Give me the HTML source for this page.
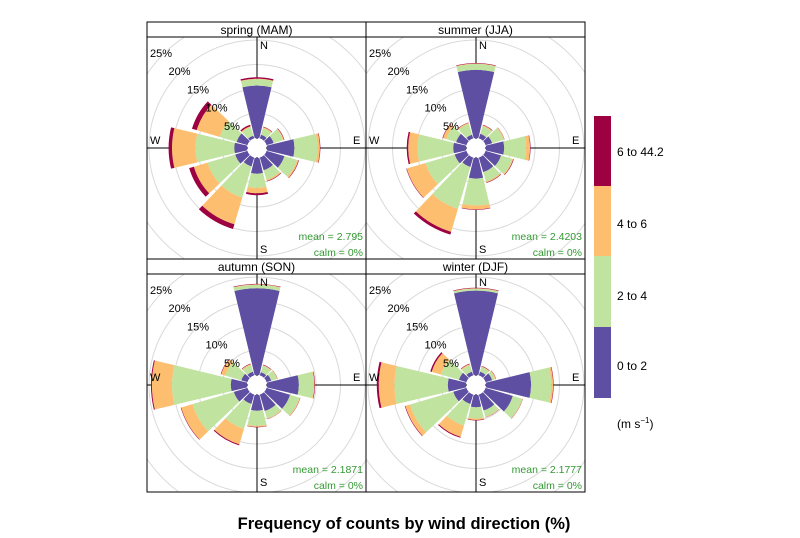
<!DOCTYPE html>
<html><head><meta charset="utf-8"><style>
body{margin:0;background:#fff;}
svg{display:block;font-family:"Liberation Sans",Arial,sans-serif;}
</style></head><body>
<svg id="chart" width="800" height="538" viewBox="0 0 800 538" xmlns="http://www.w3.org/2000/svg">
<defs>
<clipPath id="c0"><rect x="147" y="37" width="219" height="222"/></clipPath>
<clipPath id="c1"><rect x="366" y="37" width="219" height="222"/></clipPath>
<clipPath id="c2"><rect x="147" y="274" width="219" height="218"/></clipPath>
<clipPath id="c3"><rect x="366" y="274" width="219" height="218"/></clipPath>
</defs>
<g id="panels"></g>
<rect x="147" y="22" width="438" height="470" fill="none" stroke="#000" stroke-width="1"/>
<g>
<rect x="594" y="116" width="17" height="71" fill="#9E0142"/>
<rect x="594" y="186" width="17" height="71" fill="#FDBF6F"/>
<rect x="594" y="256" width="17" height="71" fill="#C0E3A0"/>
<rect x="594" y="327" width="17" height="71" fill="#5E4FA2"/>
<text x="617" y="156" font-size="12">6 to 44.2</text>
<text x="617" y="228" font-size="12">4 to 6</text>
<text x="617" y="300" font-size="12">2 to 4</text>
<text x="617" y="370" font-size="12">0 to 2</text>
<text x="617" y="428" font-size="12">(m s<tspan font-size="8" dy="-5">−1</tspan><tspan dy="5">)</tspan></text>
</g>
<text x="404" y="529" font-size="16.5" font-weight="bold" text-anchor="middle">Frequency of counts by wind direction (%)</text>
</svg>
<script>
const directions = [0,30,60,90,120,150,180,210,240,270,300,330];
const bands = ["0 to 2","2 to 4","4 to 6","6 to 44.2"];
const bandColors = ["#5E4FA2","#C0E3A0","#FDBF6F","#9E0142"];
const gridTicks = [5,10,15,20,25,30];
const gridLabels = ["5%","10%","15%","20%","25%"];
const seasonNames = ["spring (MAM)","summer (JJA)","autumn (SON)","winter (DJF)"];
const seasonMeans = ["mean = 2.795","mean = 2.4203","mean = 2.1871","mean = 2.1777"];
const seasonCalm = ["calm = 0%","calm = 0%","calm = 0%","calm = 0%"];
// band frequencies (%) per direction: [0-2, 2-4, 4-6, 6+]
const spring = [[10.7,1.3,0.1,0.3],[0.8,1.4,0.2,0.1],[1.5,2.0,0.2,0.1],[5.6,4.7,0.5,0.1],[3.8,2.7,0.3,0.1],[2.7,2.0,0.3,0.1],[3.2,2.9,1.1,0.4],[1.9,6.6,5.7,1.0],[2.6,5.9,2.9,1.0],[2.6,7.9,4.8,0.7],[2.3,3.6,4.9,1.0],[0.6,1.8,0.2,0.3]];
const summer = [[13.9,1.2,0.1,0.1],[1.0,1.6,0.2,0.1],[1.4,2.4,0.2,0.05],[3.7,4.5,0.8,0.1],[3.3,2.4,0.2,0.1],[3.1,2.0,0.2,0.1],[4.2,5.5,0.8,0.1],[2.0,8.9,4.9,0.6],[2.5,6.2,4.0,0.1],[2.6,7.3,1.9,0.3],[2.2,2.1,0.7,0.1],[0.8,2.3,0.2,0.1]];
const autumn = [[17.7,0.7,0.1,0.1],[0.7,1.4,0.1,0.1],[1.0,1.2,0.1,0.05],[6.5,3.0,0.2,0.1],[5.0,2.0,0.15,0.05],[3.5,1.6,0.1,0.05],[3.2,3.1,0.2,0.1],[2.0,5.3,3.3,0.2],[2.9,8.8,2.4,0.1],[3.3,12.0,4.1,0.2],[1.3,3.4,0.9,0.1],[0.8,1.4,0.2,0.1]];
const winter = [[17.2,0.4,0.1,0.1],[0.8,1.0,0.1,0.1],[1.4,0.6,0.2,0.05],[9.2,4.1,0.4,0.1],[5.8,2.0,0.1,0.05],[3.4,1.3,0.1,0.05],[2.5,2.3,0.3,0.1],[2.0,4.6,2.4,0.2],[2.8,9.2,1.0,0.1],[3.7,10.9,3.2,0.4],[1.6,3.8,2.0,0.3],[0.8,1.4,0.2,0.1]];
const seasonData = [spring, summer, autumn, winter];

const NS = "http://www.w3.org/2000/svg";
const HOLE = 10, K = 4.9, HALF = 13.5;
function rScale(p){ return HOLE + K*p; }
function pt(cx,cy,r,deg){ const a=deg*Math.PI/180; return [cx+r*Math.sin(a), cy-r*Math.cos(a)]; }
function mk(tag, attrs, parent){ const e=document.createElementNS(NS,tag); for(const k in attrs) e.setAttribute(k,attrs[k]); parent.appendChild(e); return e; }
function sector(cx,cy,r0,r1,a0,a1){
  const p1=pt(cx,cy,r0,a0),p2=pt(cx,cy,r1,a0),p3=pt(cx,cy,r1,a1),p4=pt(cx,cy,r0,a1);
  return `M${p1[0]},${p1[1]}L${p2[0]},${p2[1]}A${r1},${r1} 0 0 1 ${p3[0]},${p3[1]}L${p4[0]},${p4[1]}A${r0},${r0} 0 0 0 ${p1[0]},${p1[1]}Z`;
}
const panels = document.getElementById("panels");
const layout = [
  {x:147,y:22,w:219,h:237,cx:257,cy:148},
  {x:366,y:22,w:219,h:237,cx:476,cy:148},
  {x:147,y:259,w:219,h:233,cx:257,cy:385},
  {x:366,y:259,w:219,h:233,cx:476,cy:385}
];
seasonData.forEach((data, si) => {
  const L = layout[si];
  const g = mk("g",{},panels);
  
  
  const strip = mk("rect",{x:L.x,y:L.y,width:L.w,height:15,fill:"#fff",stroke:"#000"},g);
  
  
  const st = mk("text",{x:L.x+L.w/2,y:L.y+12,"font-size":12,"text-anchor":"middle"},g);
  st.textContent = seasonNames[si];
  
  
  const cg = mk("g",{"clip-path":`url(#c${si})`},g);
  gridTicks.forEach(t => {
    const c = mk("circle",{cx:L.cx,cy:L.cy,r:rScale(t),fill:"none",stroke:"#d9d9d9","stroke-width":1},cg);
    
    
  });
  const top = L.y+15, bot = L.y+L.h;
  mk("line",{x1:L.cx,y1:top,x2:L.cx,y2:bot,stroke:"#000"},cg);
  mk("line",{x1:L.x,y1:L.cy,x2:L.x+L.w,y2:L.cy,stroke:"#000"},cg);
  directions.forEach((d, di) => {
    let cum = 0;
    data[di].forEach((v, bi) => {
      const r0 = rScale(cum); cum += v; const r1 = rScale(cum);
      const p = mk("path",{d:sector(L.cx,L.cy,r0,r1,d-HALF,d+HALF),fill:bandColors[bi]},cg);
      
      
    });
  });
  mk("circle",{cx:L.cx,cy:L.cy,r:HOLE-1,fill:"#fff"},cg);
  const lbl = [["N",L.cx+3,top+12],["E",L.x+L.w-13,L.cy-4],["S",L.cx+3,bot-6],["W",L.x+3,L.cy-4]];
  lbl.forEach(l => {
    const t = mk("text",{x:l[1],y:l[2],"font-size":11},g);
    t.textContent = l[0];
    
    
  });
  gridLabels.forEach((s, i) => {
    const t = mk("text",{x:L.x+77-i*18.5,y:L.cy-18-i*18.3,"font-size":11},g);
    t.textContent = s;
    
    
  });
  const m = mk("text",{x:L.x+L.w-3,y:bot-19,"font-size":10.5,"text-anchor":"end",fill:"#339933"},g);
  m.textContent = seasonMeans[si];
  
  
  const c = mk("text",{x:L.x+L.w-3,y:bot-3,"font-size":10.5,"text-anchor":"end",fill:"#339933"},g);
  c.textContent = seasonCalm[si];
  
  
  mk("line",{x1:L.x,y1:L.y+15,x2:L.x+L.w,y2:L.y+15,stroke:"#000"},g);
});
mk("line",{x1:366,y1:22,x2:366,y2:492,stroke:"#000"},panels);
</script>
</body></html>
